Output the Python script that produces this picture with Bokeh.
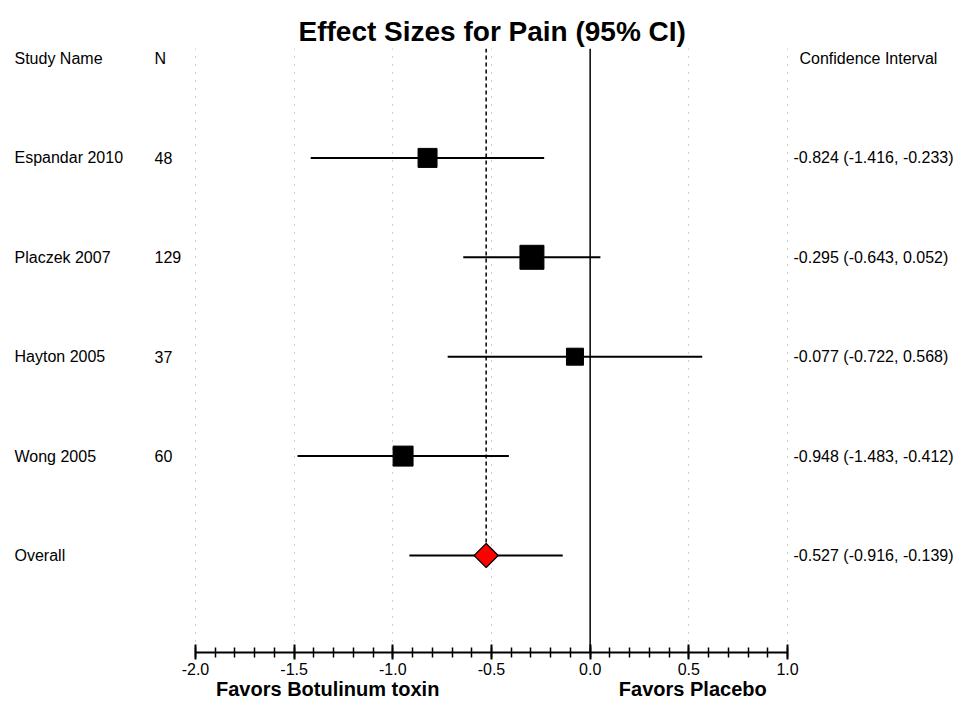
from bokeh.plotting import figure
from bokeh.models import (Range1d, LinearAxis, FixedTicker, PrintfTickFormatter,
                          ColumnDataSource, Grid, Span)
from bokeh.core.properties import value
from bokeh.embed import file_html
from bokeh.resources import INLINE
import math

# ---------------- data ----------------
title_text = "Effect Sizes for Pain (95% CI)"
header_labels = ["Study Name", "N", "Confidence Interval"]
studies = ["Espandar 2010", "Placzek 2007", "Hayton 2005", "Wong 2005"]
n_values = ["48", "129", "37", "60"]
effects = [-0.824, -0.295, -0.077, -0.948]
lower = [-1.416, -0.643, -0.722, -1.483]
upper = [-0.233, 0.052, 0.568, -0.412]
rel_weights = [22.2, 35.4, 17.8, 24.6]
overall_label = "Overall"
overall_effect = -0.527
overall_lower = -0.916
overall_upper = -0.139
tick_values = [-2.0, -1.5, -1.0, -0.5, 0.0, 0.5, 1.0]
grid_values = [-2.0, -1.5, -1.0, -0.5, 0.5, 1.0]
favors_labels = ["Favors Botulinum toxin", "Favors Placebo"]
favors_positions = [-1.33, 0.52]

# ---------------- layout constants ----------------
X_START, X_END = -2.988, 1.8564
ROW_TOP, ROW_BOTTOM = 5.976, -0.1006   # y range (rows run downward)
BODY_FONT = value("Liberation Sans")
BODY_SIZE = "16px"

rows = list(range(1, len(studies) + 1))
overall_row = len(studies) + 1
sizes = [math.sqrt(w) * 4.03 for w in rel_weights]
ci_text = [f"{e:.3f} ({l:.3f}, {u:.3f})" for e, l, u in zip(effects, lower, upper)]
overall_ci_text = f"{overall_effect:.3f} ({overall_lower:.3f}, {overall_upper:.3f})"

src = ColumnDataSource(dict(study=studies, n=n_values, eff=effects, lo=lower,
                            hi=upper, row=rows, size=sizes, ci=ci_text))

p = figure(width=956, height=705, output_backend="svg", toolbar_location=None,
           x_range=Range1d(X_START, X_END), y_range=Range1d(ROW_TOP, ROW_BOTTOM),
           x_axis_type=None, y_axis_type=None,
           min_border_left=0, min_border_right=0,
           min_border_top=48, min_border_bottom=53,
           outline_line_color=None, background_fill_color="white",
           border_fill_color="white")

p.title.text = title_text
p.title.align = "left"
p.title.offset = 298
p.title.text_font = "Liberation Sans"
p.title.text_font_style = "bold"
p.title.text_font_size = "28px"
p.title.text_color = "black"
p.title.standoff = 4

# dotted reference grid
p.add_layout(Grid(dimension=0, ticker=FixedTicker(ticks=grid_values),
                  grid_line_color="#a0a0a0", grid_line_dash="1 7",
                  grid_line_width=1))

# zero line
p.add_layout(Span(location=0, dimension="height", line_color="black",
                  line_width=1.5))

# dashed line at the pooled effect
p.segment(x0=[overall_effect], y0=[ROW_BOTTOM], x1=[overall_effect],
          y1=[overall_row], line_color="black", line_width=1.5,
          line_dash="4 3")

# study CIs and squares
p.segment(x0="lo", y0="row", x1="hi", y1="row", source=src,
          line_color="black", line_width=2)
p.scatter(x="eff", y="row", size="size", marker="square", source=src,
          fill_color="black", line_color="black")

# overall CI and diamond
p.segment(x0=[overall_lower], y0=[overall_row], x1=[overall_upper],
          y1=[overall_row], line_color="black", line_width=2)
p.scatter(x=[overall_effect], y=[overall_row], size=17, marker="square",
          angle=math.pi / 4, fill_color="#ff0000", line_color="black",
          line_width=1.2)

# text columns
txt = dict(text_font=BODY_FONT, text_font_size=BODY_SIZE, text_color="black",
           text_baseline="middle", text_align="left")
p.text(x=[X_START], y=[0], text=[header_labels[0]], x_offset=14, **txt)
p.text(x=[X_START], y=[0], text=[header_labels[1]], x_offset=154, **txt)
p.text(x=[tick_values[-1]], y=[0], text=[header_labels[2]], x_offset=12, **txt)
p.text(x=X_START, y="row", text="study", source=src, x_offset=14, **txt)
p.text(x=X_START, y="row", text="n", source=src, x_offset=154, **txt)
p.text(x=tick_values[-1], y="row", text="ci", source=src, x_offset=6, **txt)
p.text(x=[X_START], y=[overall_row], text=[overall_label], x_offset=14, **txt)
p.text(x=[tick_values[-1]], y=[overall_row], text=[overall_ci_text],
       x_offset=6, **txt)

# effect-size axis
minor = [round(tick_values[0] + 0.1 * i, 1) for i in range(31)]
ax = LinearAxis(ticker=FixedTicker(ticks=tick_values, minor_ticks=minor),
                formatter=PrintfTickFormatter(format="%.1f"),
                bounds=(tick_values[0], tick_values[-1]))
ax.axis_line_color = "black"
ax.axis_line_width = 2
ax.major_tick_in = 8
ax.major_tick_out = 7
ax.major_tick_line_width = 2
ax.minor_tick_in = 5
ax.minor_tick_out = 5
ax.minor_tick_line_width = 1.5
ax.major_label_standoff = 3
ax.major_label_text_font = "Liberation Sans"
ax.major_label_text_font_size = "16px"
ax.major_label_text_color = "black"
p.add_layout(ax, "below")

# "favors" labels axis
ax2 = LinearAxis(ticker=FixedTicker(ticks=favors_positions),
                 major_label_overrides={k: v for k, v in zip(favors_positions, favors_labels)})
ax2.axis_line_color = None
ax2.major_tick_line_color = None
ax2.minor_tick_line_color = None
ax2.major_tick_in = 0
ax2.major_tick_out = 0
ax2.major_label_standoff = 0
ax2.major_label_text_font = "Liberation Sans"
ax2.major_label_text_font_style = "bold"
ax2.major_label_text_font_size = "20px"
ax2.major_label_text_color = "black"
p.add_layout(ax2, "below")

open("out.html", "w").write(file_html(p, INLINE))
